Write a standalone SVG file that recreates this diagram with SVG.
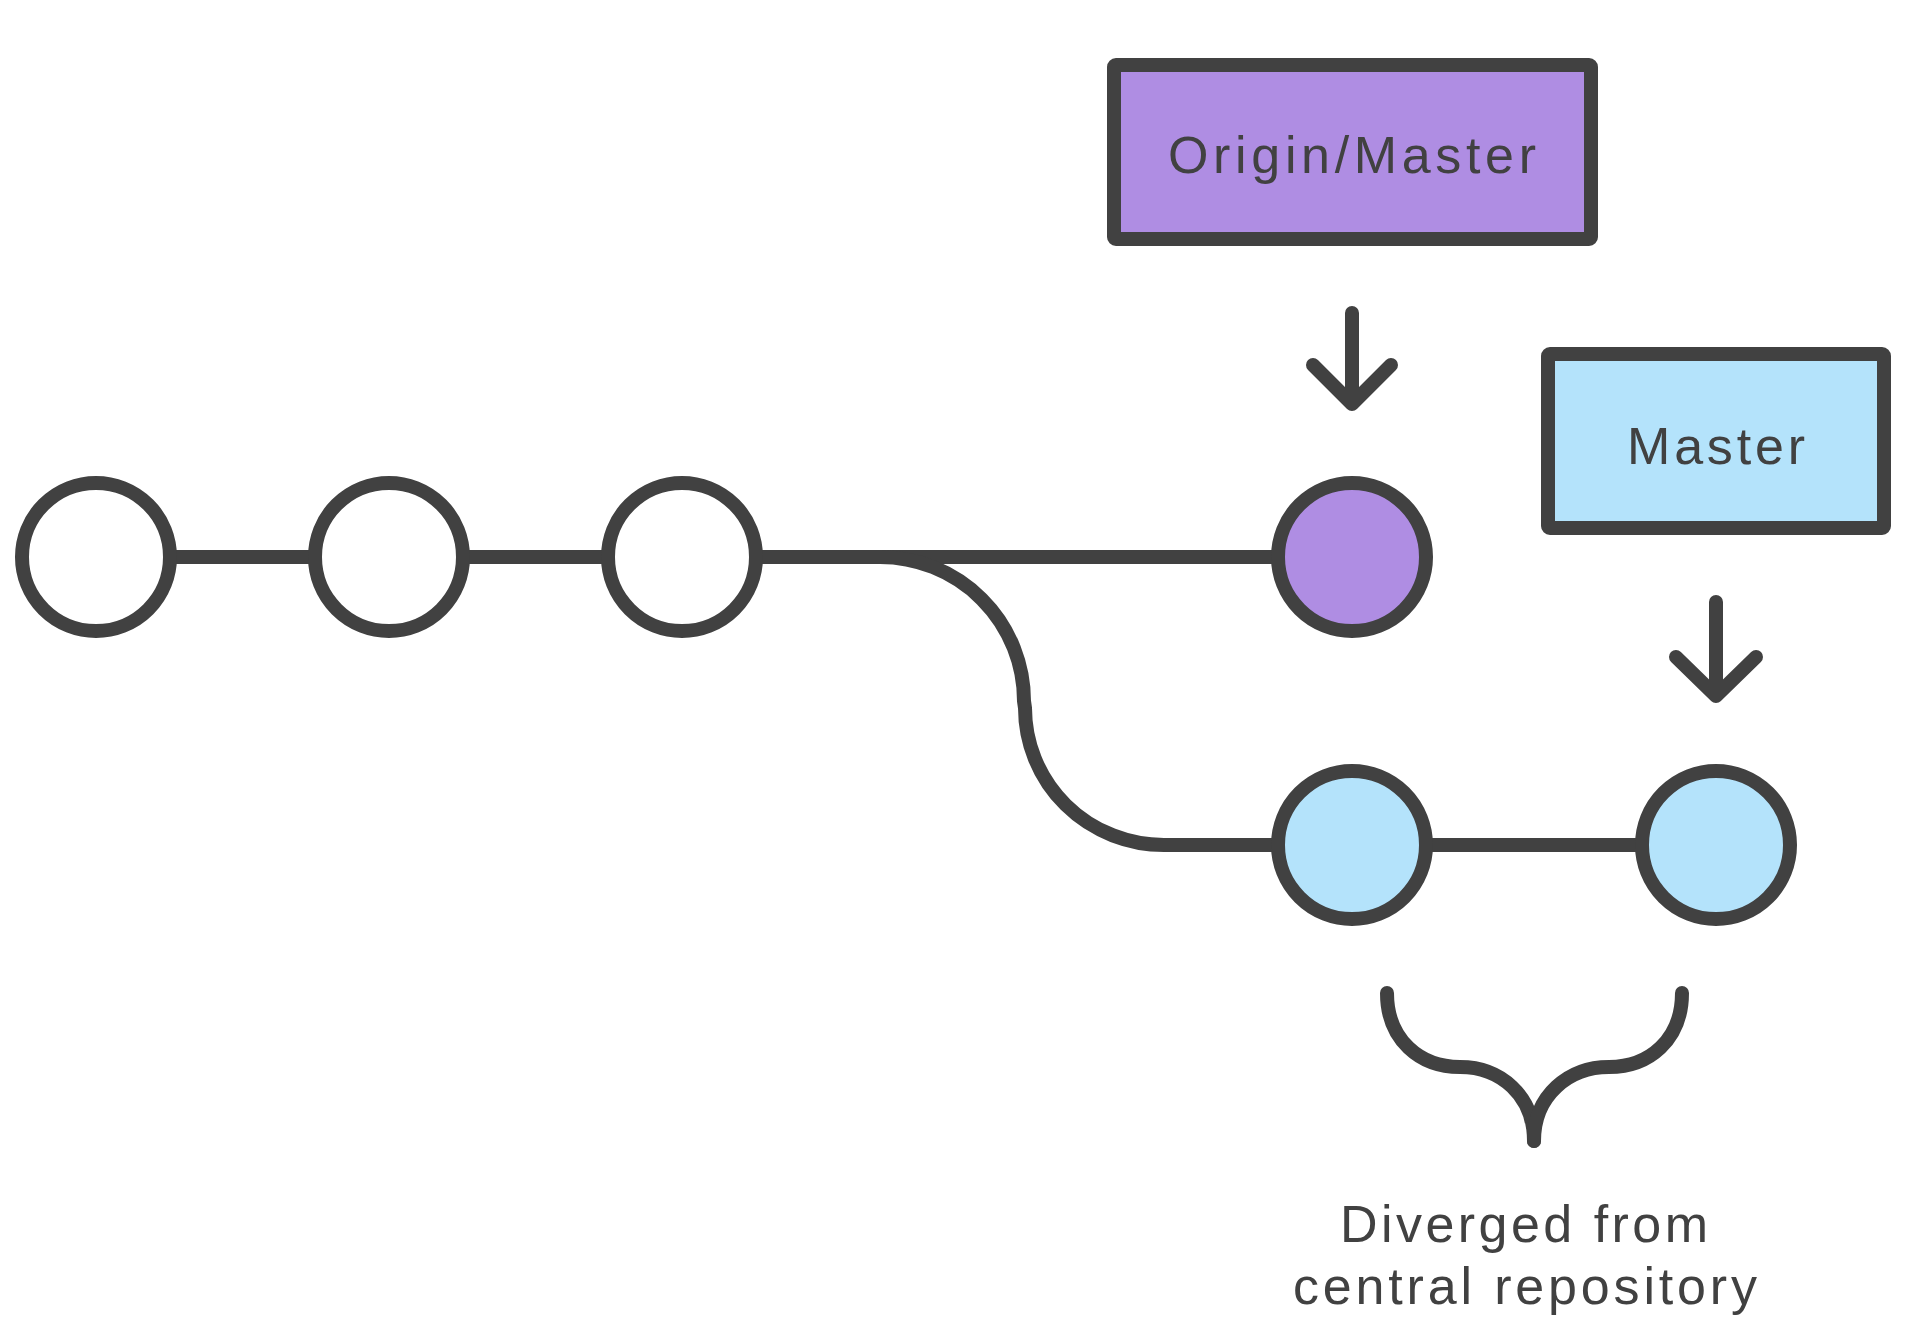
<svg xmlns="http://www.w3.org/2000/svg" width="1924" height="1328" viewBox="0 0 1924 1328">
<style>
.ln{fill:none;stroke:#414141;stroke-width:14;stroke-linecap:round;stroke-linejoin:round}
.edge{fill:none;stroke:#414141;stroke-width:14}
.c{stroke:#414141;stroke-width:14}
.box{stroke:#414141;stroke-width:14;stroke-linejoin:round}
.t{font-family:"Liberation Sans",Arial,sans-serif;font-size:52px;fill:#414141;text-anchor:middle}
</style>
<rect width="1924" height="1328" fill="#ffffff"/>
<g id="connectors">
<path class="edge" d="M96 557 L1352 557"/>
<path class="edge" d="M880 557 A144 144 0 0 1 1024 701 L1025 708 A139 137 0 0 0 1164 845 L1715 845"/>
</g>
<g id="c1"><circle class="c" cx="96" cy="557" r="74" fill="#ffffff"/></g>
<g id="c2"><circle class="c" cx="389" cy="557" r="74" fill="#ffffff"/></g>
<g id="c3"><circle class="c" cx="682" cy="557" r="74" fill="#ffffff"/></g>
<g id="c4"><circle class="c" cx="1352" cy="557" r="74" fill="#af8de3"/></g>
<g id="c5"><circle class="c" cx="1352" cy="845" r="74" fill="#b4e3fb"/></g>
<g id="c6"><circle class="c" cx="1716" cy="845" r="74" fill="#b4e3fb"/></g>
<g id="origin-master">
<rect class="box" x="1114" y="65" width="477" height="174" rx="2" fill="#af8de3"/>
<text class="t" x="1352" y="173" textLength="368" lengthAdjust="spacing">Origin/Master</text>
</g>
<g id="master">
<rect class="box" x="1548" y="354" width="336" height="174" rx="2" fill="#b4e3fb"/>
<text class="t" x="1716" y="464" textLength="178" lengthAdjust="spacing">Master</text>
</g>
<g id="arrow-origin">
<path class="ln" d="M1352 313 L1352 404 M1313 365 L1352 404 L1391 365"/>
</g>
<g id="arrow-master">
<path class="ln" d="M1716 602 L1716 696 M1676 657 L1716 696 L1756 657"/>
</g>
<g id="brace">
<path class="ln" d="M1387 993 C1387 1040 1420 1067 1460 1067 C1500 1067 1534 1095 1534 1141"/>
<path class="ln" d="M1682 993 C1682 1040 1649 1067 1609 1067 C1569 1067 1534 1095 1534 1141"/>
</g>
<g id="label">
<text class="t" x="1524" y="1242" textLength="368" lengthAdjust="spacing">Diverged from</text>
<text class="t" x="1525" y="1304" textLength="464" lengthAdjust="spacing">central repository</text>
</g>
</svg>
